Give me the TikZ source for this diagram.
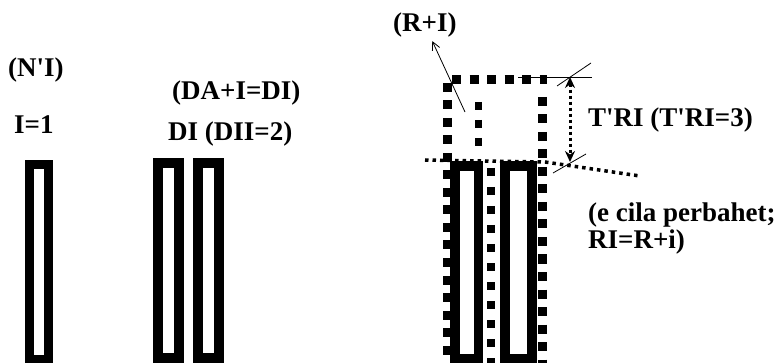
\documentclass[tikz,border=0pt]{standalone}
\usepackage{fontspec}
\setmainfont{Liberation Serif}
\usetikzlibrary{arrows.meta}
\newcommand{\lblfont}{\fontsize{27}{27}\selectfont\bfseries}

\begin{document}
\begin{tikzpicture}[x=1pt,y=-1pt,
  lbl/.style={font=\lblfont,anchor=west,inner sep=0pt},
  bar/.style={line width=9.5pt},
  bigdots/.style={line width=9pt,dash pattern=on 9pt off 8.5pt},
  middots/.style={line width=8pt,dash pattern=on 8pt off 11pt},
  finedots/.style={line width=3.5pt,dash pattern=on 3.5pt off 4pt},
  hair/.style={line width=0.8pt}]
\useasboundingbox (0,0) rectangle (781,363);
% labels
\node[lbl] (ni) at (8,70) {(N\textquotesingle I)};
\node[lbl] (ione) at (14,125) {I=1};
\node[lbl] (dai) at (172,93) {(DA+I=DI)};
\node[lbl] (dii) at (168,134) {DI (DII=2)};
\node[lbl] (ri) at (393,25) {(R+I)};
\node[lbl] (tri) at (588,120) {T\textquotesingle RI (T\textquotesingle RI=3)};
\node[lbl,anchor=north west,align=left] (cila) at (588,203) {(e cila perbahet;\\RI=R+i)};
% one bar, two bars
\draw[bar] (29.5,164.5) rectangle (48.5,359.5);
\foreach \x in {158,198} \draw[bar] (\x,163) rectangle (\x+21,358);
% three: bars under the dotted frame
\draw[bar] (455,166) rectangle (478.5,359);
\draw[bar] (505,166) rectangle (532,359);
\draw[bigdots] (452,80) -- (547,80);
\draw[bigdots] (447,83) -- (447,363);
\draw[bigdots] (542,97) -- (542,363);
\draw[line width=7pt,dash pattern=on 8pt off 10pt] (478,102) -- (478,150);
\draw[middots] (491,168) -- (491,363);
\draw[finedots] (425,160) -- (545,162) -- (640,176);
% height of the frame
\coordinate (dimtop) at (570,77);
\coordinate (dimbot) at (570,162);
\draw[line width=3pt,dash pattern=on 3pt off 3pt,{Stealth[length=11pt,width=10pt]}-{Stealth[length=11pt,width=10pt]}] (dimtop) -- (dimbot);
\draw[hair] (518,77) -- (592,77);
\draw[hair] (557,86) -- (591,63);
\draw[hair] (553,173) -- (586,154);
% pointer to (R+I)
\coordinate (rcorner) at (465,112);
\draw[hair,shorten >=4pt,-{Straight Barb[length=8pt,width=8pt]}] (rcorner) -- (ri);
\end{tikzpicture}
\end{document}
